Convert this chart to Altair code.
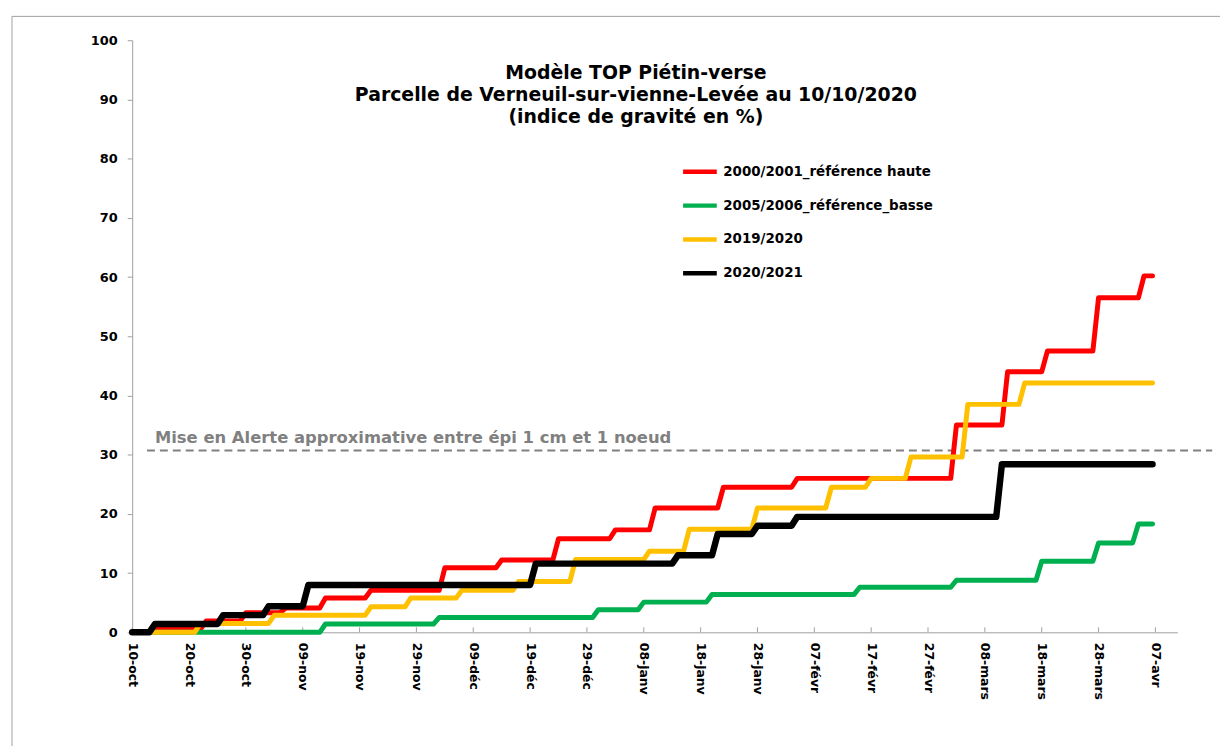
import json
import altair as alt
import pandas as pd

# ---------------- data ----------------
series_names = ["2000/2001_référence haute", "2005/2006_référence_basse", "2019/2020", "2020/2021"]
series_colors = ["#FF0000", "#00B050", "#FFC000", "#000000"]
series_widths = [5, 5, 5, 6.5]

# days counted from 10-oct
tick_days = [0, 10, 20, 30, 40, 50, 60, 70, 80, 90, 100, 110, 120, 130, 140, 150, 160, 170, 180]
tick_labels = ["10-oct", "20-oct", "30-oct", "09-nov", "19-nov", "29-nov", "09-déc", "19-déc",
               "29-déc", "08-janv", "18-janv", "28-janv", "07-févr", "17-févr", "27-févr",
               "08-mars", "18-mars", "28-mars", "07-avr"]

red_start = [0, 4, 13, 20, 27, 34, 42, 55, 65, 75, 85, 92, 104, 117, 145, 154, 161, 170, 178]
red_end = [3, 12, 19, 26, 33, 41, 54, 64, 74, 84, 91, 103, 116, 144, 153, 160, 169, 177, 179.5]
red_value = [0, 0.5, 1.9, 3.3, 4.1, 5.8, 7.1, 10.9, 12.2, 15.8, 17.3, 21.0, 24.5, 26.0, 35.0, 44.0, 47.5, 56.5, 60.2]

green_start = [0, 34, 54, 82, 90, 102, 128, 145, 160, 170, 177]
green_end = [33, 53, 81, 89, 101, 127, 144, 159, 169, 176, 179.5]
green_value = [0, 1.4, 2.5, 3.8, 5.1, 6.4, 7.6, 8.8, 12.0, 15.1, 18.3]

yellow_start = [0, 12, 25, 42, 49, 58, 68, 78, 91, 98, 110, 123, 130, 137, 147, 157]
yellow_end = [11, 24, 41, 48, 57, 67, 77, 90, 97, 109, 122, 129, 136, 146, 156, 179.5]
yellow_value = [0, 1.5, 2.9, 4.3, 5.8, 7.1, 8.6, 12.3, 13.7, 17.4, 21.0, 24.5, 26.0, 29.6, 38.5, 42.1]

black_start = [0, 4, 16, 24, 31, 71, 96, 103, 110, 117, 153]
black_end = [3, 15, 23, 30, 70, 95, 102, 109, 116, 152, 179.5]
black_value = [0, 1.4, 2.9, 4.4, 8.0, 11.6, 13.0, 16.6, 18.0, 19.5, 28.4]

alert_value = 30.7
alert_days = [2.6, 190]
alert_text = "Mise en Alerte approximative entre épi 1 cm et 1 noeud"
alert_text_pos = [4.0, 31.9]

title_lines = ["Modèle TOP Piétin-verse",
               "Parcelle de Verneuil-sur-vienne-Levée au 10/10/2020",
               "(indice de gravité en %)"]

# ---------------- table ----------------
levels = [(red_start, red_end, red_value), (green_start, green_end, green_value),
          (yellow_start, yellow_end, yellow_value), (black_start, black_end, black_value)]
rows = []
for name, (st, en, va) in zip(series_names, levels):
    k = 0
    for s, e, v in zip(st, en, va):
        rows.append({"series": name, "day": s, "value": v, "ord": k}); k += 1
        rows.append({"series": name, "day": e, "value": v, "ord": k}); k += 1
df = pd.DataFrame(rows)

W, H = 1052, 596
FONT = "DejaVu Sans"
GRAY = "#A0A0A0"

x_scale = alt.Scale(domain=[0, 183.85], nice=False, zero=False)
y_scale = alt.Scale(domain=[0, 100], nice=False)

label_expr = json.dumps(tick_labels, ensure_ascii=False) + "[round(datum.value/10)]"
x_axis = alt.Axis(values=tick_days, labelExpr=label_expr, ticks=False, domainColor=GRAY,
                  labelAngle=90, labelAlign="left", labelBaseline="middle", labelPadding=10,
                  labelFont=FONT, labelFontWeight="bold", labelFontSize=12.5, labelColor="black",
                  grid=False, title=None, labelOverlap=False, labelFlush=False)
y_axis = alt.Axis(values=list(range(0, 101, 10)), tickSize=5, tickColor=GRAY, domainColor=GRAY,
                  labelPadding=10, labelFont=FONT, labelFontWeight="bold", labelFontSize=13,
                  labelColor="black", grid=False, title=None)

legend = alt.Legend(orient="none", legendX=552, legendY=113, title=None, symbolType="stroke",
                    symbolStrokeWidth=4.5, symbolSize=1150, labelFontSize=13.5, labelFont=FONT,
                    labelFontWeight="bold", labelColor="black", rowPadding=5, labelOffset=4,
                    labelLimit=0, direction="vertical")

color = alt.Color("series:N", scale=alt.Scale(domain=series_names, range=series_colors),
                  legend=legend)

border = alt.Chart(pd.DataFrame({"a": [0]})).mark_rect(
    fillOpacity=0, stroke=GRAY, strokeWidth=1
).encode(x=alt.value(-121), y=alt.value(-24), x2=alt.value(1110), y2=alt.value(720))

ticks = alt.Chart(pd.DataFrame({"day": tick_days})).mark_rule(color=GRAY, strokeWidth=1).encode(
    x=alt.X("day:Q", scale=x_scale, axis=x_axis), y=alt.value(H), y2=alt.value(H - 5))

alert_df = pd.DataFrame({"x": [alert_days[0]], "x2": [alert_days[1]], "y": [alert_value]})
alert_rule = alt.Chart(alert_df).mark_rule(color="#808080", strokeWidth=2, strokeDash=[8, 5]).encode(
    x=alt.X("x:Q", scale=x_scale, axis=x_axis), x2="x2:Q",
    y=alt.Y("y:Q", scale=y_scale, axis=y_axis))

alert_lbl = alt.Chart(pd.DataFrame({"x": [alert_text_pos[0]], "y": [alert_text_pos[1]], "t": [alert_text]})).mark_text(
    align="left", baseline="alphabetic", font=FONT, fontWeight="bold", fontSize=16.5, color="#808080"
).encode(x=alt.X("x:Q", scale=x_scale, axis=x_axis), y=alt.Y("y:Q", scale=y_scale, axis=y_axis), text="t:N")

title = alt.Chart(pd.DataFrame({"t": ["\n".join(title_lines)]})).mark_text(
    align="center", baseline="middle", font=FONT, fontWeight="bold", fontSize=19,
    lineHeight=22, lineBreak="\n", color="black"
).encode(x=alt.value(507), y=alt.value(33), text="t:N")

line_layers = []
for name, w in zip(series_names, series_widths):
    line_layers.append(
        alt.Chart(df).transform_filter(alt.datum.series == name).mark_line(
            strokeWidth=w, strokeCap="round", strokeJoin="round"
        ).encode(
            x=alt.X("day:Q", scale=x_scale, axis=x_axis),
            y=alt.Y("value:Q", scale=y_scale, axis=y_axis),
            color=color,
            order=alt.Order("ord:Q"),
        )
    )

chart = alt.layer(border, ticks, alert_rule, alert_lbl, *line_layers, title).properties(
    width=W, height=H, autosize=alt.AutoSizeParams(type="none"),
    padding={"left": 125, "top": 30, "right": 43, "bottom": 112},
    background="white",
).configure_view(stroke=None)

chart.save("out.html", embed_options={"renderer": "svg", "actions": False})
